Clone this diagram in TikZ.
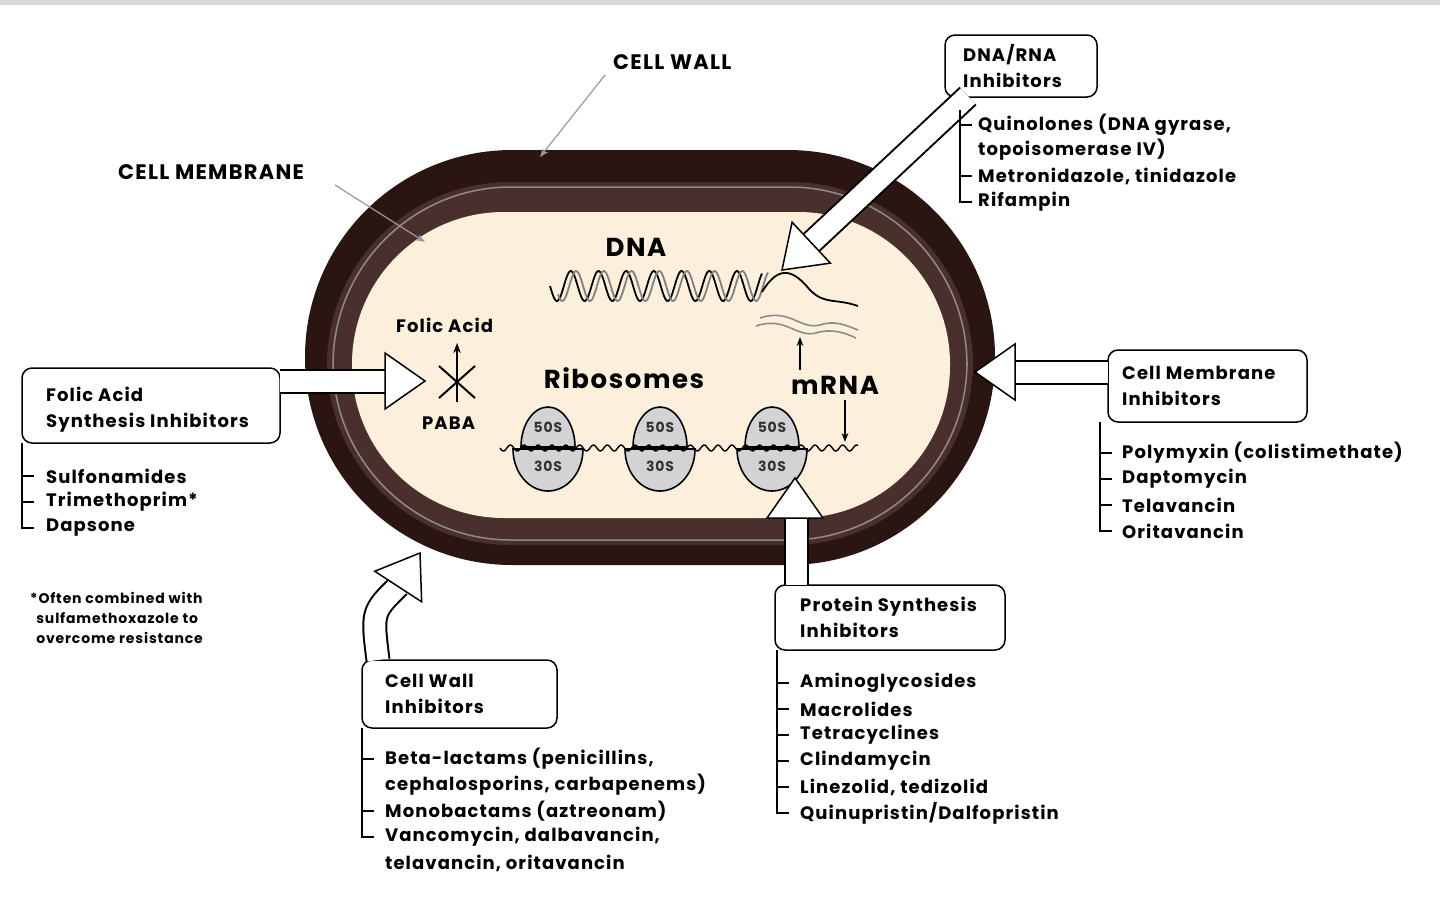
\documentclass[tikz,border=0pt]{standalone}
\usepackage{fontspec}
\setmainfont{Poppins}[LetterSpace=6]
\usetikzlibrary{calc,arrows.meta}
\definecolor{wallc}{HTML}{2B1513}
\definecolor{bandc}{HTML}{4A302D}
\definecolor{creamc}{HTML}{FCF0DD}
\definecolor{ribc}{HTML}{D3D3D3}
\tikzset{
  lbl/.style={font=\fontsize{18}{26}\selectfont\bfseries, align=left, anchor=west, inner sep=0pt},
  captxt/.style={font=\fontsize{21}{26}\selectfont\bfseries, align=left, anchor=west, inner sep=0pt},
  itm/.style={font=\fontsize{18}{24}\selectfont\bfseries, align=left, anchor=west, inner sep=0pt},
  big/.style={font=\fontsize{26}{30}\selectfont\bfseries, inner sep=0pt},
  cbox/.style={draw=black, line width=1.5pt, fill=white, rounded corners=10pt},
  lst/.style={line width=1.5pt},
  thin/.style={draw=black!40, line width=1.2pt, -{Stealth[length=9pt]}},
}
\newcommand{\hshaft}[1]{\draw[line width=25pt, black] #1; \draw[line width=21pt, white] #1;}
\newcommand{\hhead}[2]{%
  \coordinate (hb) at ($(#1)!40pt!(#2)$);
  \filldraw[fill=white, draw=black, line width=1.5pt, line join=miter] (#1) -- ($(hb)!28pt!90:(#1)$) -- ($(hb)!28pt!-90:(#1)$) -- cycle;}
\begin{document}
\begin{tikzpicture}[x=1pt,y=-1pt]
\useasboundingbox (0,0) rectangle (1440,898);
\fill[black!15] (0,0) rectangle (1440,5);
% cell
\fill[wallc, rounded corners=207pt] (305,150) rectangle (995,565);
\fill[bandc, rounded corners=183pt] (327,182) rectangle (973,545);
\draw[black!45, line width=1.5pt, rounded corners=178pt] (333,187) rectangle (967,540);
\fill[creamc, rounded corners=152pt] (352,212) rectangle (950,518);
% titles
\node[captxt] (cw) at (613,62) {CELL WALL};
\node[captxt] (cm) at (118,172) {CELL MEMBRANE};
\coordinate (cwt) at (540,157);
\coordinate (cmt) at (425,242);
\draw[thin] (605,75) -- (cwt);
\draw[thin] (335,185) -- (cmt);
% DNA
\node[big] (dna) at (636,247) {DNA};
\draw[black, line width=1.8pt] plot[domain=550:762, samples=200] (\x, {286+15*sin((\x-550)*13)});
\draw[black!50, line width=1.8pt] plot[domain=558:768, samples=200] (\x, {286+15*sin((\x-550)*13-70)});
\draw[black, line width=1.8pt] (762,292) .. controls (780,262) and (795,272) .. (810,290) .. controls (825,305) and (835,298) .. (858,306);
\draw[black!45, line width=1.6pt] (760,318) .. controls (790,308) and (800,330) .. (820,325) .. controls (835,320) and (845,325) .. (858,330);
\draw[black!45, line width=1.6pt] (756,326) .. controls (786,316) and (796,338) .. (816,333) .. controls (831,328) and (846,333) .. (856,338);
% folic acid
\node[lbl] (fa) at (396,325) {Folic Acid};
\node[lbl] (paba) at (422,423) {PABA};
\coordinate (faa) at (457,343);
\draw[line width=2pt, -{Stealth[length=10pt]}] (457,402) -- (faa);
\draw[line width=2pt] (439,366) -- (475,398) (475,366) -- (439,398);
% ribosomes
\node[big] (rib) at (624,378) {Ribosomes};
\node[big] (mrna) at (835,385) {mRNA};
\coordinate (mu) at (800,337);
\coordinate (md) at (845,442);
\draw[line width=1.8pt, -{Stealth[length=9pt]}] (800,370) -- (mu);
\draw[line width=1.8pt, -{Stealth[length=9pt]}] (845,400) -- (md);
\foreach \cx/\nm in {548/a,660/b,772/c}{
  \filldraw[fill=ribc, draw=black, line width=1.6pt] (\cx-35,449) arc (180:0:35 and 42) -- cycle;
  \filldraw[fill=ribc, draw=black, line width=1.6pt] (\cx-27,447) arc (180:360:27 and 40) -- cycle;
  \node[font=\fontsize{14}{16}\selectfont\bfseries, inner sep=0pt, text=black!80] (r50\nm) at (\cx,427) {50S};
  \node[font=\fontsize{14}{16}\selectfont\bfseries, inner sep=0pt, text=black!80] (r30\nm) at (\cx,466) {30S};
}
\draw[line width=1.4pt] plot[domain=500:858, samples=300] (\x, {448+3*sin((\x-500)*26)});
% ---- callouts ----
% DNA/RNA
\node[cbox, minimum width=152pt, minimum height=62pt] (bdna) at (1021,66) {};
\node[lbl] (tdna) at (963,66) {DNA/RNA\\Inhibitors};
\coordinate (tip1) at (782,270);
\hshaft{(968,96) -- ($(tip1)!39pt!(968,96)$)}
\hhead{tip1}{968,96}
\draw[lst] (960,110) |- (972,202) (960,125) -- (972,125) (960,176) -- (972,176);
\node[itm] (i11) at (978,125) {Quinolones (DNA gyrase,};
\node[itm] (i12) at (978,150) {topoisomerase IV)};
\node[itm] (i13) at (978,176) {Metronidazole, tinidazole};
\node[itm] (i14) at (978,202) {Rifampin};
% membrane
\node[cbox, minimum width=199pt, minimum height=72pt] (bmem) at (1207.5,386) {};
\node[lbl] (tmem) at (1122,386) {Cell Membrane\\Inhibitors};
\coordinate (tip2) at (975,372);
\hshaft{(1108,372) -- (1014,372)}
\hhead{tip2}{1100,372}
\draw[lst] (1100,422) |- (1112,531) (1100,453) -- (1112,453) (1100,479) -- (1112,479) (1100,505) -- (1112,505);
\node[itm] (i21) at (1122,453) {Polymyxin (colistimethate)};
\node[itm] (i22) at (1122,479) {Daptomycin};
\node[itm] (i23) at (1122,505) {Telavancin};
\node[itm] (i24) at (1122,531) {Oritavancin};
% folic acid
\node[cbox, minimum width=258pt, minimum height=75pt] (bfol) at (151,405.5) {};
\node[lbl] (tfol) at (46,410) {Folic Acid\\Synthesis Inhibitors};
\coordinate (tip3) at (425,381);
\hshaft{(280,381) -- (386,381)}
\hhead{tip3}{300,381}
\draw[lst] (22,443) |- (34,528) (22,476) -- (34,476) (22,502) -- (34,502);
\node[itm] (i31) at (46,476) {Sulfonamides};
\node[itm] (i32) at (46,502) {Trimethoprim*};
\node[itm] (i33) at (46,528) {Dapsone};
\node[font=\fontsize{14}{20}\selectfont\bfseries, align=left, inner sep=0pt, anchor=north west] (foot) at (30,592) {*Often combined with\\\ \,sulfamethoxazole to\\\ \,overcome resistance};
% cell wall
\node[cbox, minimum width=195pt, minimum height=68pt] (bwal) at (459.5,694) {};
\node[lbl] (twal) at (385,694) {Cell Wall\\Inhibitors};
\coordinate (tip4) at (420,553);
\hshaft{(378,660) .. controls (372,612) .. ($(tip4)!39pt!(392,596)$)}
\hhead{tip4}{392,596}
\draw[lst] (362,728) |- (374,837) (362,759) -- (374,759) (362,811) -- (374,811);
\node[itm] (i41) at (385,759) {Beta-lactams (penicillins,};
\node[itm] (i42) at (385,785) {cephalosporins, carbapenems)};
\node[itm] (i43) at (385,811) {Monobactams (aztreonam)};
\node[itm] (i44) at (385,837) {Vancomycin, dalbavancin,};
\node[itm] (i45) at (385,863) {telavancin, oritavancin};
% protein synthesis
\node[cbox, minimum width=230pt, minimum height=65pt] (bpro) at (890,617.5) {};
\node[lbl] (tpro) at (800,617) {Protein Synthesis\\Inhibitors};
\coordinate (tip5) at (795,478);
\hshaft{(796,585) -- (796,516)}
\hhead{tip5}{795,560}
\draw[lst] (777,650) |- (789,813) (777,683) -- (789,683) (777,709) -- (789,709) (777,735) -- (789,735) (777,761) -- (789,761) (777,787) -- (789,787);
\node[itm] (i51) at (800,683) {Aminoglycosides};
\node[itm] (i52) at (800,709) {Macrolides};
\node[itm] (i53) at (800,735) {Tetracyclines};
\node[itm] (i54) at (800,761) {Clindamycin};
\node[itm] (i55) at (800,787) {Linezolid, tedizolid};
\node[itm] (i56) at (800,813) {Quinupristin/Dalfopristin};
\end{tikzpicture}
\end{document}
